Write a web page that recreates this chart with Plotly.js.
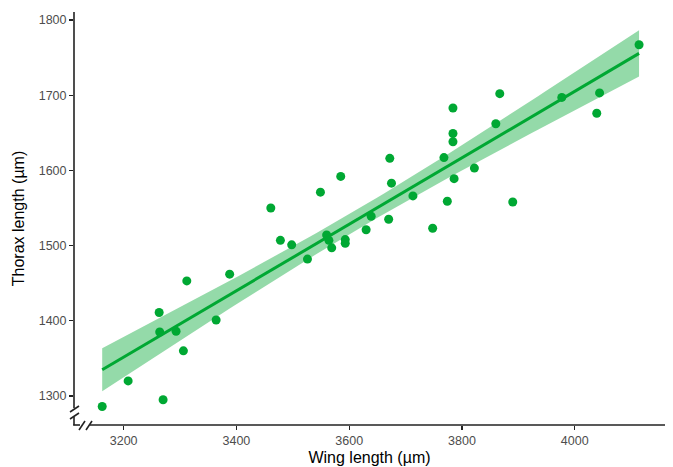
<!DOCTYPE html>
<html>
<head>
<meta charset="utf-8">
<script src="https://cdn.plot.ly/plotly-3.0.1.min.js"></script>
<style>html,body{margin:0;padding:0;background:#fff;}#chart{width:673px;height:467px;}</style>
</head>
<body>
<div id="chart"></div>
<script>
// Wing length (µm)
const wingLength = [3162, 3208, 3263, 3264, 3270, 3293, 3306, 3312, 3364, 3388,
  3461, 3478, 3498, 3526, 3549, 3560, 3564, 3569, 3585, 3593,
  3593, 3630, 3639, 3672, 3675, 3670, 3713, 3748, 3768, 3774,
  3784, 3784, 3784, 3786, 3822, 3860, 3867, 3890, 3977, 4039,
  4044, 4114];
// Thorax length (µm)
const thoraxLength = [1286, 1320, 1411, 1385, 1295, 1386, 1360, 1453, 1401, 1462,
  1550, 1507, 1501, 1482, 1571, 1514, 1507, 1497, 1592, 1508,
  1503, 1521, 1539, 1616, 1583, 1535, 1566, 1523, 1617, 1559,
  1683, 1649, 1638, 1589, 1603, 1662, 1702, 1558, 1697, 1676,
  1703, 1767];
const xTicks = [3200, 3400, 3600, 3800, 4000];
const yTicks = [1300, 1400, 1500, 1600, 1700, 1800];
const tCrit = 2.021; // t(0.975, df = 40)

// Linear model fit with 95% confidence band
const n = wingLength.length;
const xbar = wingLength.reduce((a, b) => a + b, 0) / n;
const ybar = thoraxLength.reduce((a, b) => a + b, 0) / n;
let sxx = 0, sxy = 0;
for (let i = 0; i < n; i++) {
  sxx += (wingLength[i] - xbar) ** 2;
  sxy += (wingLength[i] - xbar) * (thoraxLength[i] - ybar);
}
const slope = sxy / sxx;
const intercept = ybar - slope * xbar;
let sse = 0;
for (let i = 0; i < n; i++) sse += (thoraxLength[i] - intercept - slope * wingLength[i]) ** 2;
const s = Math.sqrt(sse / (n - 2));
const xmin = Math.min(...wingLength), xmax = Math.max(...wingLength);
const gx = [], gy = [], lo = [], hi = [];
for (let k = 0; k <= 80; k++) {
  const x = xmin + (xmax - xmin) * k / 80;
  const y = intercept + slope * x;
  const se = s * Math.sqrt(1 / n + (x - xbar) ** 2 / sxx);
  gx.push(x); gy.push(y); lo.push(y - tCrit * se); hi.push(y + tCrit * se);
}

const green = 'rgb(0,168,51)';
const traces = [
  {x: gx, y: lo, mode: 'lines', line: {width: 0}, hoverinfo: 'skip', showlegend: false},
  {x: gx, y: hi, mode: 'lines', line: {width: 0}, fill: 'tonexty', fillcolor: 'rgba(0,168,51,0.42)', hoverinfo: 'skip', showlegend: false},
  {x: gx, y: gy, mode: 'lines', line: {color: green, width: 3}, showlegend: false},
  {x: wingLength, y: thoraxLength, mode: 'markers', marker: {color: green, size: 9}, showlegend: false}
];

// plot area in pixels
const L = 74, R = 665, T = 12, B = 425;
const px = v => (v - L) / (R - L);
const py = v => (B - v) / (B - T);
function seg(x0, y0, x1, y1) {
  return {type: 'line', xref: 'paper', yref: 'paper', x0: px(x0), y0: py(y0), x1: px(x1), y1: py(y1),
    line: {color: '#222', width: 1.6}, layer: 'above'};
}
const shapes = [
  seg(74, 12, 74, 408),
  seg(74, 417, 74, 425.2),
  seg(73.2, 425, 80, 425),
  seg(90, 425, 665, 425),
  seg(70, 412, 79, 406),
  seg(70, 419, 79, 413),
  seg(79, 430, 85, 421),
  seg(86, 430, 92, 421)
];

const tickFont = {family: 'Liberation Sans, Arial, sans-serif', size: 12.5, color: '#4d4d4d'};
const titleFont = {family: 'Liberation Sans, Arial, sans-serif', size: 16, color: '#000'};
const layout = {
  width: 673, height: 467,
  margin: {l: 74, r: 8, t: 12, b: 42},
  paper_bgcolor: '#fff', plot_bgcolor: '#fff',
  showlegend: false,
  xaxis: {range: [3112, 4160], tickvals: xTicks, ticktext: xTicks.map(String),
    showgrid: false, zeroline: false, showline: false,
    ticks: 'outside', ticklen: 4, tickwidth: 1.2, tickcolor: '#222',
    tickfont: tickFont, title: {text: 'Wing length (µm)', font: titleFont, standoff: 4}},
  yaxis: {range: [1261.4, 1810.6], tickvals: yTicks, ticktext: yTicks.map(String),
    showgrid: false, zeroline: false, showline: false,
    ticks: 'outside', ticklen: 4, tickwidth: 1.2, tickcolor: '#222',
    tickfont: tickFont, title: {text: 'Thorax length (µm)', font: titleFont, standoff: 10}},
  shapes: shapes
};
Plotly.newPlot('chart', traces, layout, {staticPlot: true, displayModeBar: false});
</script>
</body>
</html>
